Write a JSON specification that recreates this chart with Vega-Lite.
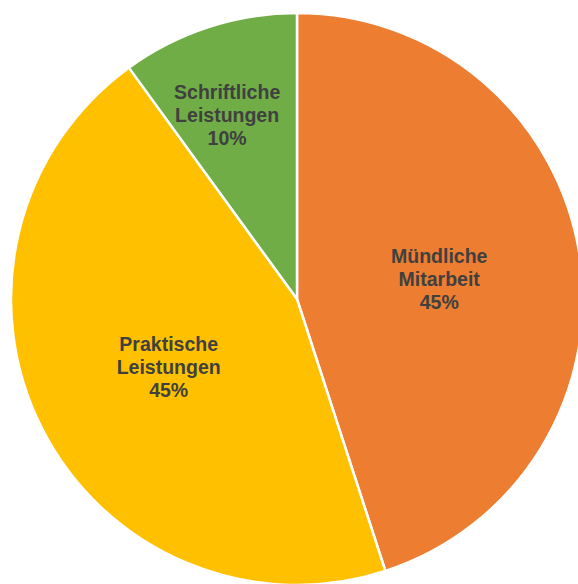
{
  "$schema": "https://vega.github.io/schema/vega-lite/v6.json",
  "width": 562,
  "height": 572,
  "padding": {"left": 16, "top": 13, "right": 0, "bottom": 0},
  "autosize": {"type": "none"},
  "background": "white",
  "view": {"stroke": null},
  "data": {
    "values": [
      {"kategorie": "Mündliche Mitarbeit", "anteil": 45, "ordnung": 1},
      {"kategorie": "Praktische Leistungen", "anteil": 45, "ordnung": 2},
      {"kategorie": "Schriftliche Leistungen", "anteil": 10, "ordnung": 3}
    ]
  },
  "transform": [
    {"calculate": "[split(datum.kategorie, ' ')[0], split(datum.kategorie, ' ')[1], datum.anteil + '%']", "as": "beschriftung"},
    {"calculate": "datum.anteil >= 20 ? datum.beschriftung : ''", "as": "innen"},
    {"calculate": "datum.anteil < 20 ? datum.beschriftung : ''", "as": "aussen"}
  ],
  "encoding": {
    "theta": {"field": "anteil", "type": "quantitative", "stack": true},
    "order": {"field": "ordnung", "type": "quantitative"},
    "color": {
      "field": "kategorie",
      "type": "nominal",
      "legend": null,
      "scale": {
        "domain": ["Mündliche Mitarbeit", "Praktische Leistungen", "Schriftliche Leistungen"],
        "range": ["#ED7D31", "#FFC000", "#70AD47"]
      }
    }
  },
  "layer": [
    {
      "mark": {"type": "arc", "outerRadius": 286, "stroke": "white", "strokeWidth": 2.5}
    },
    {
      "mark": {
        "type": "text",
        "radius": 144,
        "dy": -19,
        "font": "Liberation Sans",
        "fontSize": 19.5,
        "fontWeight": "bold",
        "lineHeight": 23,
        "baseline": "middle"
      },
      "encoding": {
        "text": {"field": "innen"},
        "color": {"value": "#404040"}
      }
    },
    {
      "mark": {
        "type": "text",
        "radius": 197,
        "dx": -9,
        "dy": -19,
        "font": "Liberation Sans",
        "fontSize": 19.5,
        "fontWeight": "bold",
        "lineHeight": 23,
        "baseline": "middle"
      },
      "encoding": {
        "text": {"field": "aussen"},
        "color": {"value": "#404040"}
      }
    }
  ]
}
